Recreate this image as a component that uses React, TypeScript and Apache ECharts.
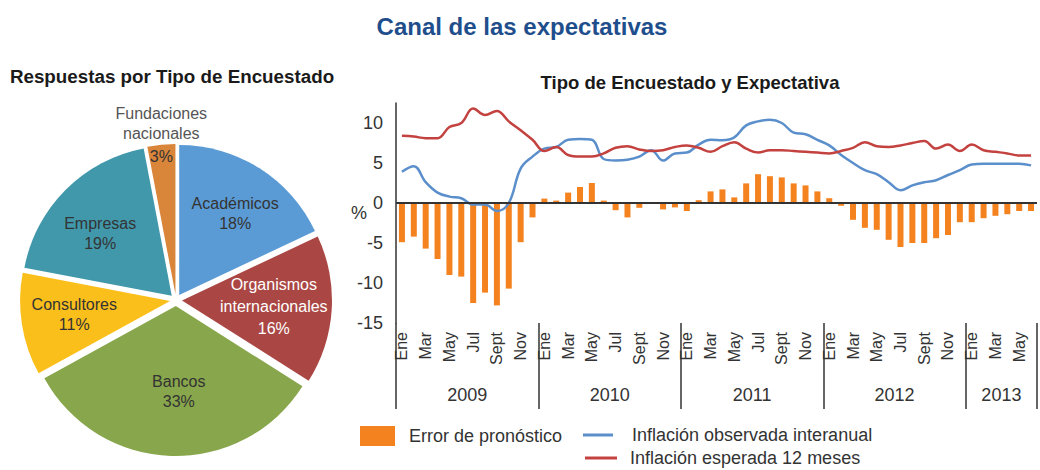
import React, { useEffect, useRef } from 'react';
import * as echarts from 'echarts';

const FONT = '"Liberation Sans", Arial, sans-serif';

// ---- Pie data ----
const pieNames = ['Académicos', 'Organismos internacionales', 'Bancos', 'Consultores', 'Empresas', 'Fundaciones nacionales'];
const pieLabelNames = ['Académicos', 'Organismos\ninternacionales', 'Bancos', 'Consultores', 'Empresas', 'Fundaciones\nnacionales'];
const pieValues = [18, 16, 33, 11, 19, 3];
const pieColors = ['#5b9bd5', '#aa4744', '#88a64b', '#fbbf1c', '#4198ab', '#d9853a'];

// ---- Time axis ----
const monthNames = ['Ene', 'Feb', 'Mar', 'Abr', 'May', 'Jun', 'Jul', 'Ago', 'Sept', 'Oct', 'Nov', 'Dic'];
const years = ['2009', '2010', '2011', '2012', '2013'];
const monthsPerYear = [12, 12, 12, 12, 6];

// ---- Series (%) ----
const errorData = [
  -4.9, -4.2, -5.7, -7.0, -9.0, -9.2, -12.5, -11.2, -12.8, -10.7, -4.9, -1.8,
  0.55, 0.3, 1.3, 2.0, 2.5, 0.3, -0.9, -1.8, -0.6, -0.1, -0.8, -0.55,
  -1.0, 0.35, 1.45, 1.7, 0.7, 2.45, 3.6, 3.35, 3.2, 2.45, 2.2, 1.45,
  0.6, -0.35, -2.1, -3.1, -3.35, -4.6, -5.5, -5.0, -5.0, -4.4, -4.0, -2.4,
  -2.4, -1.9, -1.6, -1.4, -1.0, -1.0,
];
const observedData = [
  3.9, 4.6, 2.6, 1.3, 0.8, 0.6, -0.2, -0.2, -1.0, 0.0, 4.3, 5.8,
  6.8, 7.0, 7.9, 8.0, 7.9, 5.5, 5.3, 5.4, 5.8, 6.6, 5.3, 6.2,
  6.3, 7.3, 7.9, 7.85, 8.2, 9.7, 10.2, 10.4, 10.0, 8.8, 8.6, 7.9,
  7.2, 6.0, 5.0, 4.1, 3.6, 2.6, 1.6, 2.2, 2.6, 2.85, 3.5, 4.1,
  4.8, 4.9, 4.9, 4.9, 4.9, 4.7,
];
const expectedData = [
  8.4, 8.3, 8.1, 8.1, 9.5, 10.0, 11.8, 11.0, 11.5, 10.2, 9.1, 7.9,
  6.5, 7.0, 6.0, 5.8, 5.8, 6.2, 6.9, 7.1, 6.7, 6.5, 6.6, 7.0,
  7.2, 6.9, 6.4, 7.1, 7.6, 6.8, 6.3, 6.6, 6.6, 6.5, 6.4, 6.3,
  6.2, 6.5, 6.9, 7.6, 7.1, 7.0, 7.2, 7.5, 7.75, 6.8, 7.3, 6.5,
  7.3, 6.6, 6.4, 6.2, 5.95, 5.95,
];
const yTicks = [-15, -10, -5, 0, 5, 10];

export default function App() {
  const ref = useRef<HTMLDivElement>(null);

  useEffect(() => {
    if (!ref.current) return;
    const chart = echarts.init(ref.current, undefined, { renderer: 'svg' });

    const categories: string[] = [];
    const yearCenters: Record<number, string> = {};
    let start = 0;
    years.forEach((y, k) => {
      for (let m = 0; m < monthsPerYear[k]; m++) categories.push(monthNames[m] + ' ' + y);
      yearCenters[start + monthsPerYear[k] / 2] = y;
      start += monthsPerYear[k];
    });
    const total = categories.length;

    const legendText = (pad: number) => ({ fontSize: 18, color: '#333', fontFamily: FONT, padding: [0, 0, 0, pad] });

    // small label nudges (px) for pie labels
    const labelOffsets: number[][] = [[4, 0], [-5, 0], [6, -11], [0, -2], [-3, 6], [-5, -61]];

    const option: any = {
      animation: false,
      textStyle: { fontFamily: FONT },
      graphic: [
        {
          type: 'text', x: 522, y: 26,
          style: { text: 'Canal de las expectativas', align: 'center', verticalAlign: 'middle', fontSize: 24, fontWeight: 'bold', fill: '#1f4e8c', fontFamily: FONT },
        },
        {
          type: 'text', x: 172, y: 76,
          style: { text: 'Respuestas por Tipo de Encuestado', align: 'center', verticalAlign: 'middle', fontSize: 18.8, fontWeight: 'bold', fill: '#1a1a1a', fontFamily: FONT },
        },
        {
          type: 'text', x: 690, y: 82,
          style: { text: 'Tipo de Encuestado y Expectativa', align: 'center', verticalAlign: 'middle', fontSize: 18.5, fontWeight: 'bold', fill: '#1a1a1a', fontFamily: FONT },
        },
      ],
      legend: [
        {
          data: [{ name: 'Error de pronóstico', icon: 'rect' }],
          left: 360, top: 426, padding: 0, itemWidth: 35, itemHeight: 20,
          textStyle: legendText(9),
        },
        {
          data: [{ name: 'Inflación observada interanual', icon: 'rect' }],
          left: 583, top: 426, padding: 0, itemWidth: 30, itemHeight: 3,
          textStyle: legendText(14),
        },
        {
          data: [{ name: 'Inflación esperada 12 meses', icon: 'rect' }],
          left: 585, top: 449, padding: 0, itemWidth: 32, itemHeight: 3,
          textStyle: legendText(8),
        },
      ],
      grid: { left: 396, right: -6, top: 103, bottom: 147, containLabel: false },
      xAxis: [
        {
          type: 'category', data: categories, position: 'bottom',
          axisLine: { show: false, onZero: false },
          axisTick: { show: true, interval: (i: number) => i % 12 === 0, length: 86, lineStyle: { color: '#333', width: 1.5 } },
          axisLabel: { interval: 1, rotate: 90, formatter: (v: string) => v.split(' ')[0], fontSize: 16, color: '#333', margin: 9, fontFamily: FONT },
          splitLine: { show: false },
        },
        {
          type: 'value', position: 'bottom', offset: 55, min: 0, max: total, interval: 3,
          axisLine: { show: false, onZero: false }, axisTick: { show: false }, splitLine: { show: false },
          axisLabel: { formatter: (v: number) => yearCenters[v] ?? '', fontSize: 18, color: '#333', margin: 8, fontFamily: FONT },
        },
      ],
      yAxis: {
        type: 'value', min: -15, max: 12.5, interval: 5,
        axisLine: { show: true, lineStyle: { color: '#333', width: 1.5 } },
        axisTick: { show: false }, splitLine: { show: false },
        axisLabel: { fontSize: 18, color: '#333', margin: 13, fontFamily: FONT, formatter: (v: number) => (yTicks.includes(v) ? String(v) : '') },
        name: '%', nameLocation: 'middle', nameRotate: 0, nameGap: 29, nameMoveOverlap: false,
        nameTextStyle: { fontSize: 18, color: '#333', fontFamily: FONT },
      },
      series: [
        {
          type: 'pie', center: [176, 300], radius: [0, 150], startAngle: 90, clockwise: true,
          selectedMode: 'multiple', selectedOffset: 6, silent: true,
          label: { show: false }, labelLine: { show: false },
          emphasis: { disabled: true },
          select: { itemStyle: { borderWidth: 0 } },
          data: pieNames.map((n, i) => ({ name: n, value: pieValues[i], selected: true, itemStyle: { color: pieColors[i] } })),
        },
        {
          type: 'pie', center: [176, 300], radius: [50, 150], startAngle: 90, clockwise: true, silent: true,
          itemStyle: { color: 'rgba(0,0,0,0)' },
          emphasis: { disabled: true },
          labelLine: { show: false },
          label: {
            show: true, position: 'inside', fontSize: 16, color: '#333', lineHeight: 20, fontFamily: FONT,
            formatter: (p: any) => pieLabelNames[p.dataIndex] + '\n' + p.value + '%',
          },
          data: pieNames.map((n, i) => {
            const item: any = { name: n, value: pieValues[i], label: { offset: labelOffsets[i] } };
            if (i === 1) item.label = { offset: labelOffsets[i], color: '#ffffff', lineHeight: 22 };
            if (i === 5) {
              item.label = {
                offset: labelOffsets[i],
                formatter: '{n|Fundaciones}\n{n|nacionales}\n{p|' + pieValues[i] + '%}',
                rich: {
                  n: { fontSize: 16, color: '#555', lineHeight: 20, fontFamily: FONT },
                  p: { fontSize: 16, color: '#333', lineHeight: 26, fontFamily: FONT },
                },
              };
            }
            return item;
          }),
        },
        {
          type: 'bar', name: 'Error de pronóstico', data: errorData, barWidth: 6,
          itemStyle: { color: '#f4821f' },
          markLine: {
            silent: true, symbol: 'none', label: { show: false },
            lineStyle: { color: '#333', width: 2, type: 'solid' },
            data: [{ yAxis: 0 }],
          },
        },
        {
          type: 'line', name: 'Inflación observada interanual', data: observedData, smooth: 0.4,
          showSymbol: false, symbol: 'none', z: 3,
          lineStyle: { color: '#5b8fcb', width: 2.5 }, itemStyle: { color: '#5b8fcb' },
        },
        {
          type: 'line', name: 'Inflación esperada 12 meses', data: expectedData, smooth: 0.4,
          showSymbol: false, symbol: 'none', z: 3,
          lineStyle: { color: '#c3423f', width: 2.5 }, itemStyle: { color: '#c3423f' },
        },
      ],
    };
    chart.setOption(option);
    return () => chart.dispose();
  }, []);

  return <div ref={ref} style={{ position: 'fixed', left: 0, top: 0, width: 1040, height: 470, background: '#fff' }} />;
}
